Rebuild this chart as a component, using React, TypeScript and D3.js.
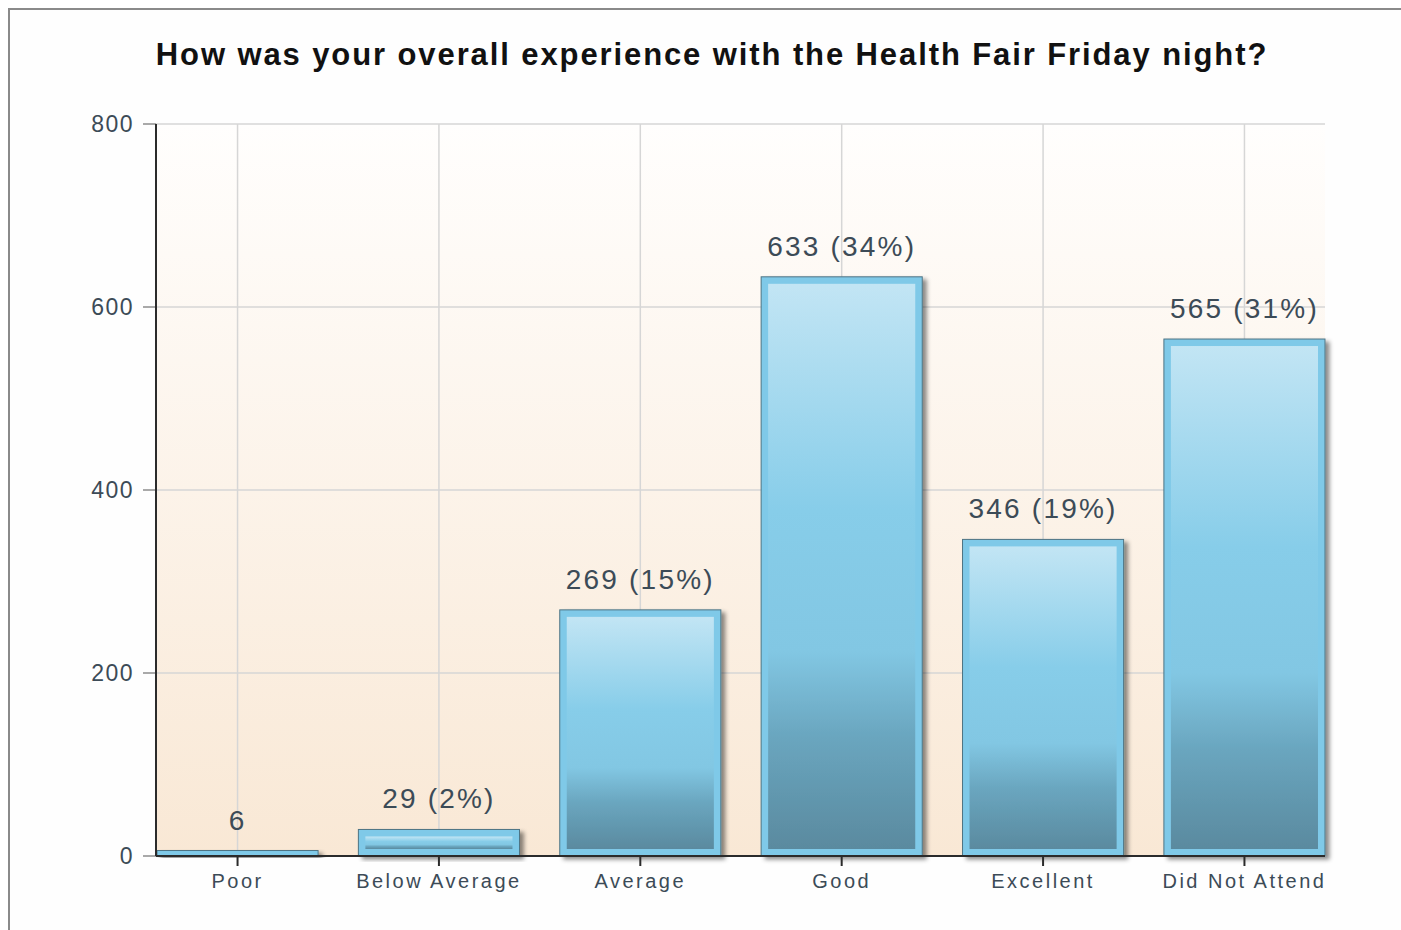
import React, { useLayoutEffect, useRef } from 'react';
import * as d3 from 'd3';

const categories = ['Poor', 'Below Average', 'Average', 'Good', 'Excellent', 'Did Not Attend'];
const counts = [6, 29, 269, 633, 346, 565];
const percents: (number | null)[] = [null, 2, 15, 34, 19, 31];
const yTicks = [0, 200, 400, 600, 800];
const title = 'How was your overall experience with the Health Fair Friday night?';

type Datum = { cat: string; count: number; pct: number | null };

const width = 1401;
const height = 930;
const plot = { left: 156, right: 1325, top: 124, bottom: 856 };
const font = '"Liberation Sans", Arial, sans-serif';
const textColor = '#3c4b57';

const drawChart = (container: SVGSVGElement) => {
  const data: Datum[] = categories.map((cat, i) => ({ cat, count: counts[i], pct: percents[i] }));
  const svg = d3.select(container);
  svg.selectAll('*').remove();

  const defs = svg.append('defs');
  const bg = defs.append('linearGradient').attr('id', 'plot-bg').attr('x1', 0).attr('y1', 0).attr('x2', 0).attr('y2', 1);
  bg.append('stop').attr('offset', '0%').attr('stop-color', '#fffefd');
  bg.append('stop').attr('offset', '100%').attr('stop-color', '#f9e8d5');

  const barFill = defs.append('linearGradient').attr('id', 'bar-fill').attr('x1', 0).attr('y1', 0).attr('x2', 0).attr('y2', 1);
  barFill.append('stop').attr('offset', '0%').attr('stop-color', '#c2e5f4');
  barFill.append('stop').attr('offset', '40%').attr('stop-color', '#87cde9');
  barFill.append('stop').attr('offset', '65%').attr('stop-color', '#82c7e3');
  barFill.append('stop').attr('offset', '80%').attr('stop-color', '#6aa6bf');
  barFill.append('stop').attr('offset', '100%').attr('stop-color', '#5a8a9f');

  const shadow = defs.append('filter').attr('id', 'bar-shadow').attr('x', '-10%').attr('y', '-10%').attr('width', '130%').attr('height', '130%');
  shadow.append('feDropShadow').attr('dx', 4).attr('dy', 3).attr('stdDeviation', 2)
    .attr('flood-color', '#000').attr('flood-opacity', 0.45);

  // frame
  svg.append('rect').attr('x', 9).attr('y', 9).attr('width', 1500).attr('height', 1000)
    .attr('fill', '#fefefe').attr('stroke', '#8a8a8a').attr('stroke-width', 2);

  svg.append('text').attr('x', 712).attr('y', 65).attr('text-anchor', 'middle')
    .attr('font-family', font).attr('font-weight', 'bold').attr('font-size', 31)
    .attr('letter-spacing', 1.9).attr('fill', '#111').text(title);

  const x = d3.scaleBand<string>().domain(categories).range([157, plot.right]).paddingInner(0.2).paddingOuter(0);
  const y = d3.scaleLinear().domain([0, 800]).range([plot.bottom, plot.top]);
  const cx = (c: string) => x(c)! + x.bandwidth() / 2;

  svg.append('rect').attr('x', plot.left).attr('y', plot.top)
    .attr('width', plot.right - plot.left).attr('height', plot.bottom - plot.top)
    .attr('fill', 'url(#plot-bg)');

  const grid = svg.append('g').attr('stroke', '#d6d6d6').attr('stroke-width', 1.5);
  grid.selectAll('line.h').data(yTicks.filter((t) => t > 0)).join('line').attr('class', 'h')
    .attr('x1', plot.left).attr('x2', plot.right).attr('y1', (d) => y(d)).attr('y2', (d) => y(d));
  grid.selectAll('line.v').data(categories).join('line').attr('class', 'v')
    .attr('x1', cx).attr('x2', cx).attr('y1', plot.top).attr('y2', plot.bottom);

  // y axis ticks and labels
  const yAxis = svg.append('g');
  yAxis.selectAll('line').data(yTicks).join('line')
    .attr('x1', 143).attr('x2', plot.left).attr('y1', (d) => y(d)).attr('y2', (d) => y(d))
    .attr('stroke', '#8c8c8c').attr('stroke-width', 1.5);
  yAxis.selectAll('text').data(yTicks).join('text')
    .attr('x', 134).attr('y', (d) => y(d) + 8).attr('text-anchor', 'end')
    .attr('font-family', font).attr('font-size', 23).attr('letter-spacing', 1.5)
    .attr('fill', textColor).text((d) => d);

  // bars
  const bars = svg.append('g').selectAll('g').data(data).join('g')
    .attr('filter', 'url(#bar-shadow)');
  const border = 7;
  bars.append('rect')
    .attr('x', (d) => x(d.cat)!).attr('y', (d) => y(d.count))
    .attr('width', x.bandwidth()).attr('height', (d) => plot.bottom - y(d.count))
    .attr('fill', '#7fc9e8').attr('stroke', '#4e7484').attr('stroke-width', 1);
  bars.filter((d) => plot.bottom - y(d.count) > border * 2).append('rect')
    .attr('x', (d) => x(d.cat)! + border).attr('y', (d) => y(d.count) + border)
    .attr('width', x.bandwidth() - border * 2).attr('height', (d) => plot.bottom - y(d.count) - border * 2)
    .attr('fill', 'url(#bar-fill)');

  // value labels
  svg.append('g').selectAll('text').data(data).join('text')
    .attr('x', (d) => cx(d.cat))
    .attr('y', (d) => y(d.count) - 21)
    .attr('text-anchor', 'middle').attr('font-family', font).attr('font-size', 28)
    .attr('letter-spacing', 2.2).attr('fill', textColor)
    .text((d) => (d.pct == null ? `${d.count}` : `${d.count} (${d.pct}%)`));

  // axis lines
  svg.append('line').attr('x1', plot.left).attr('x2', plot.left).attr('y1', plot.top).attr('y2', plot.bottom)
    .attr('stroke', '#2b2b2b').attr('stroke-width', 2);
  svg.append('line').attr('x1', plot.left).attr('x2', plot.right).attr('y1', plot.bottom).attr('y2', plot.bottom)
    .attr('stroke', '#2b2b2b').attr('stroke-width', 2);

  // x ticks and labels
  const xAxis = svg.append('g');
  xAxis.selectAll('line').data(categories).join('line')
    .attr('x1', cx).attr('x2', cx)
    .attr('y1', plot.bottom).attr('y2', plot.bottom + 10)
    .attr('stroke', '#2b2b2b').attr('stroke-width', 2);
  xAxis.selectAll('text').data(categories).join('text')
    .attr('x', cx).attr('y', 888)
    .attr('text-anchor', 'middle').attr('font-family', font).attr('font-size', 20)
    .attr('letter-spacing', 2.5).attr('fill', textColor).text((d) => d);
};

export default function App() {
  const ref = useRef<SVGSVGElement>(null);
  useLayoutEffect(() => {
    if (ref.current) drawChart(ref.current);
  }, []);
  return (
    <svg
      ref={ref}
      width={width}
      height={height}
      style={{ position: 'absolute', left: 0, top: 0, display: 'block', background: '#fff' }}
    />
  );
}
